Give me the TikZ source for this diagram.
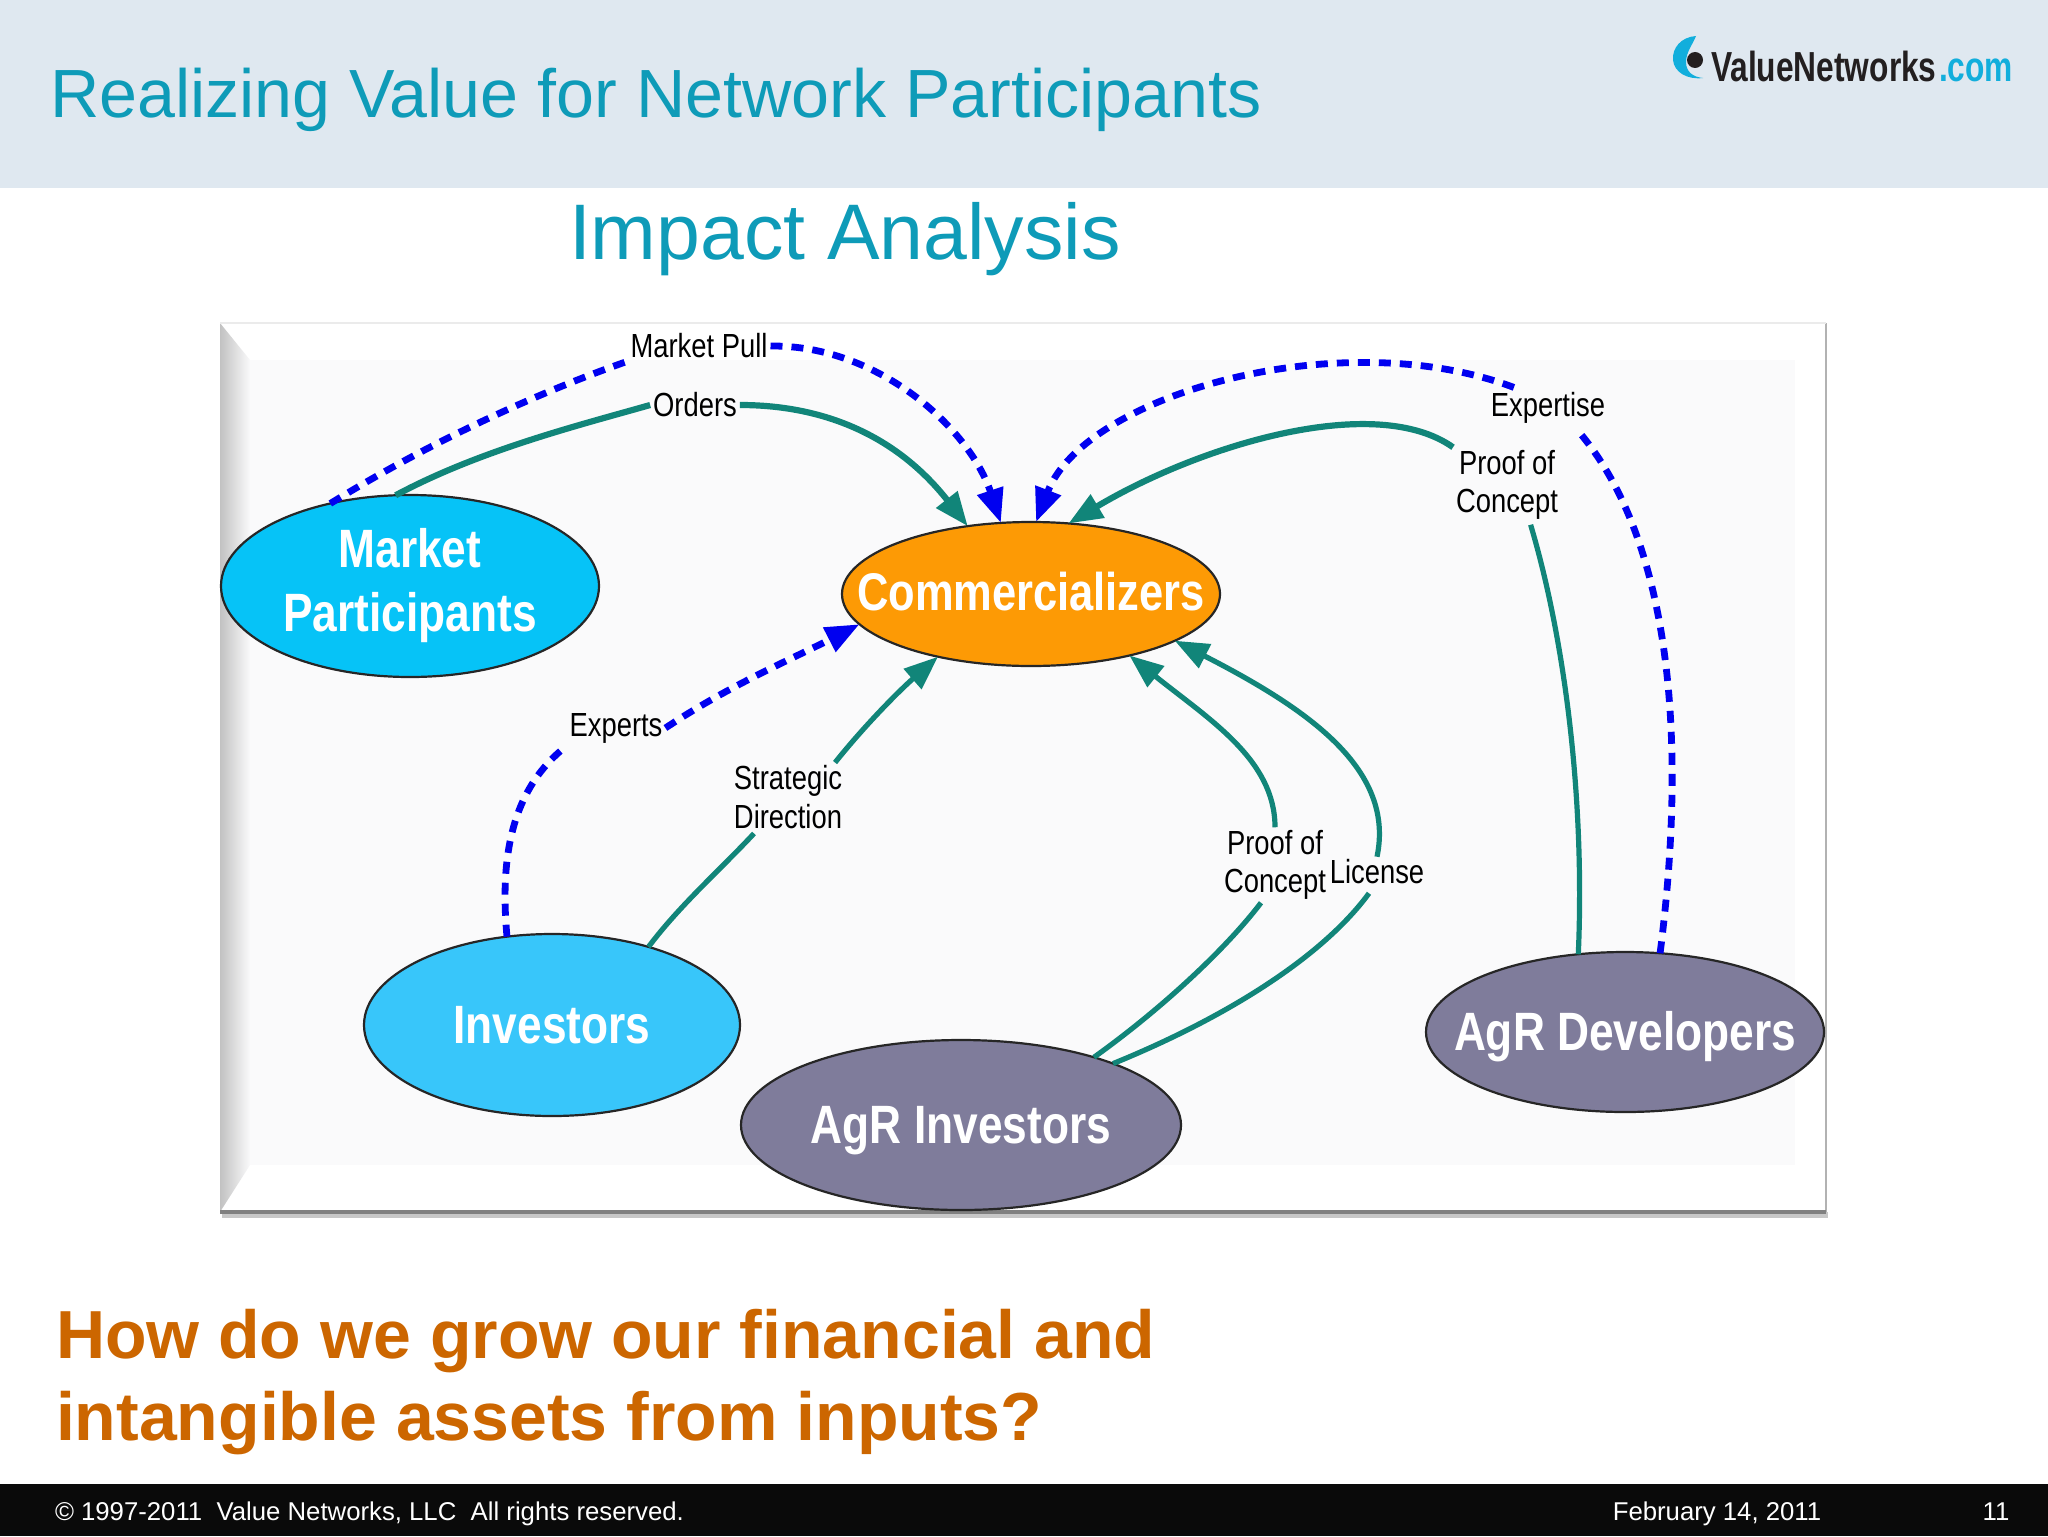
\documentclass[tikz,border=0pt]{standalone}
\usepackage{fontspec}
\setmainfont{Liberation Sans}
\newfontfamily\narrowfont[FakeStretch=0.82]{Liberation Sans}
\newfontfamily\logofont[FakeStretch=0.755]{Liberation Sans}
\usetikzlibrary{shapes.geometric,arrows.meta}
\definecolor{headbg}{HTML}{DFE8F0}
\definecolor{titleteal}{HTML}{0E9BB8}
\definecolor{askorange}{HTML}{CC6600}
\definecolor{footbg}{HTML}{0A0A0A}
\definecolor{flowteal}{HTML}{118579}
\definecolor{flowblue}{HTML}{0000F0}
\definecolor{mpfill}{HTML}{06C3F7}
\definecolor{cofill}{HTML}{FD9A05}
\definecolor{infill}{HTML}{38C6FA}
\definecolor{agfill}{HTML}{7F7C9B}
\definecolor{panelbg}{HTML}{FAFAFB}
\definecolor{logocyan}{HTML}{12AEDC}
\definecolor{logoblack}{HTML}{231F20}
\newcommand{\zw}[2][0pt]{\raisebox{#1}[0pt][0pt]{\makebox[0pt][c]{#2}}}
\tikzset{
  actor/.style={ellipse,draw=black!85,line width=1.1pt,inner sep=0pt,outer sep=0pt,text=white,align=center,
    font=\narrowfont\bfseries\fontsize{27}{32}\selectfont},
  flowlabel/.style={inner sep=1.5pt,outer sep=0pt,text=black,align=center,
    font=\narrowfont\fontsize{16.7}{19.2}\selectfont},
  tangible/.style={draw=flowteal,line width=2.6pt,-{Triangle[length=17pt,width=13pt]}},
  tangibleplain/.style={draw=flowteal,line width=2.6pt},
  heavy/.style={line width=3.1pt},
  intangible/.style={draw=flowblue,line width=3.4pt,dash pattern=on 6pt off 4.5pt,-{Triangle[length=17pt,width=13pt]}},
  intangibleplain/.style={draw=flowblue,line width=3.4pt,dash pattern=on 6pt off 4.5pt},
  slidetext/.style={inner sep=0pt,outer sep=0pt,anchor=base west},
}
\begin{document}
\begin{tikzpicture}[x=0.5pt,y=-0.5pt]
\useasboundingbox (0,0) rectangle (2048,1536);
\fill[white] (0,0) rectangle (2048,1536);
% header and footer
\fill[headbg] (0,0) rectangle (2048,188);
\fill[footbg] (0,1484) rectangle (2048,1536);
\node[slidetext,text=titleteal,font=\fontsize{34.1}{40}\selectfont] (title) at (50,118) {Realizing Value for Network Participants};
\node[slidetext,text=titleteal,font=\fontsize{39.4}{48}\selectfont] (sub) at (569,259) {Impact Analysis};
% logo
\fill[logocyan,shift={(3,0)}] (1693,36) .. controls (1678,37) and (1669,48) .. (1670,60) .. controls (1671,72) and (1684,80) .. (1700,78) .. controls (1690,77) and (1683,72) .. (1683,62) .. controls (1683,52) and (1690,44) .. (1693,36) -- cycle;
\fill[logoblack] (1695,60) circle[radius=8];
\node[slidetext,font=\logofont\bfseries\fontsize{21}{25}\selectfont,text=logoblack] (logoa) at (1711,82) {ValueNetworks};
\node[slidetext,font=\logofont\bfseries\fontsize{21}{25}\selectfont,text=logocyan] (logob) at (1939,82) {.com};
% panel
\fill[black!22] (222,1212) rectangle (1828,1218);
\fill[white] (220,323) rectangle (1826,1212);
\fill[panelbg] (250,360) rectangle (1795,1165);
\shade[left color=black!24,middle color=black!4,right color=panelbg] (220,323) -- (250,360) -- (250,1165) -- (220,1212) -- cycle;
\draw[black!30,line width=1pt] (1826,323) -- (1826,1212);
\draw[black!50,line width=1.6pt] (220,1212) -- (1826,1212);
\draw[black!8,line width=.6pt] (220,323) -- (1826,323);
% actors
\node[actor,fill=mpfill,minimum width=189pt,minimum height=91pt] (mp) at (410,586) {Market\\Participants};
\node[actor,fill=cofill,minimum width=189pt,minimum height=72pt,font=\narrowfont\bfseries\fontsize{26.5}{32}\selectfont] (co) at (1031,594) {\zw[-8pt]{Commercializers}};
\node[actor,fill=infill,minimum width=188pt,minimum height=91pt] (inv) at (552,1025) {\zw[-9pt]{Investors}};
\node[actor,fill=agfill,minimum width=220pt,minimum height=85pt] (agi) at (961,1125) {\zw[-9pt]{AgR Investors}};
\node[actor,fill=agfill,minimum width=199pt,minimum height=80pt] (agd) at (1625,1032) {\zw[-9pt]{AgR Developers}};
% labels
\node[flowlabel] (lpull) at (699,346) {Market Pull};
\node[flowlabel] (lord) at (695,405) {Orders};
\node[flowlabel] (lexp) at (1548,408) {Expertise};
\node[flowlabel] (lpoc) at (1507,485) {Proof of\\Concept};
\node[flowlabel] (lexs) at (616,728) {Experts};
\node[flowlabel] (lstr) at (788,797) {Strategic\\Direction};
\node[flowlabel] (lpocb) at (1275,865) {Proof of\\Concept};
\node[flowlabel] (llic) at (1377,872) {License};
% connectors
\draw[intangibleplain] (mp.134) .. controls (450,430) and (560,385) .. (lpull.south west);
\draw[intangible] (lpull.east) .. controls (880,345) and (970,430) .. (co.113);
\draw[tangibleplain,heavy] (mp.99) .. controls (480,450) and (580,425) .. (lord.west);
\draw[tangible,heavy] (lord.east) .. controls (830,405) and (900,440) .. (co.133);
\draw[intangible] ([xshift=13pt,yshift=1pt]lexp.north west) .. controls (1340,322) and (1085,395) .. (co.86);
\draw[intangibleplain] (agd.66) .. controls (1690,720) and (1665,530) .. ([xshift=-16pt,yshift=-1pt]lexp.south east);
\draw[tangible,heavy] (lpoc.north west) .. controls (1375,392) and (1200,445) .. (co.62);
\draw[tangibleplain] (agd.121) .. controls (1585,800) and (1565,640) .. ([xshift=3pt,yshift=-1pt]lpoc.-65);
\draw[intangibleplain] (inv.117) .. controls (500,860) and (510,790) .. (lexs.south west);
\draw[intangible] (lexs.east) .. controls (730,685) and (790,660) .. (co.190);
\draw[tangibleplain] (inv.39) .. controls (680,905) and (720,870) .. ([xshift=-17pt,yshift=-1pt]lstr.south);
\draw[tangible] ([xshift=-5pt]lstr.north east) .. controls (865,725) and (900,690) .. (co.214);
\draw[tangibleplain] (agi.27) .. controls (1160,1010) and (1225,950) .. ([xshift=-7pt]lpocb.south);
\draw[tangible] (lpocb.north) .. controls (1275,760) and (1210,720) .. (co.-32);
\draw[tangibleplain] (agi.22) .. controls (1220,1020) and (1320,960) .. ([xshift=-4pt,yshift=-3pt]llic.south);
\draw[tangible] (llic.north) .. controls (1395,770) and (1310,710) .. (co.-18);
% question
\node[slidetext,text=askorange,font=\bfseries\fontsize{34}{40}\selectfont] (qa) at (56,1358) {How do we grow our financial and};
\node[slidetext,text=askorange,font=\bfseries\fontsize{34}{40}\selectfont] (qb) at (56,1440) {intangible assets from inputs?};
% footer text
\node[slidetext,text=white,font=\fontsize{12.87}{16}\selectfont] (fa) at (55,1520) {© 1997-2011\ \ Value Networks, LLC\ \ All rights reserved.};
\node[slidetext,text=white,font=\fontsize{12.87}{16}\selectfont,anchor=base] (fb) at (1717,1520) {February 14, 2011};
\node[slidetext,text=white,font=\fontsize{12.87}{16}\selectfont,anchor=base] (fc) at (1996,1520) {11};
\end{tikzpicture}
\end{document}
